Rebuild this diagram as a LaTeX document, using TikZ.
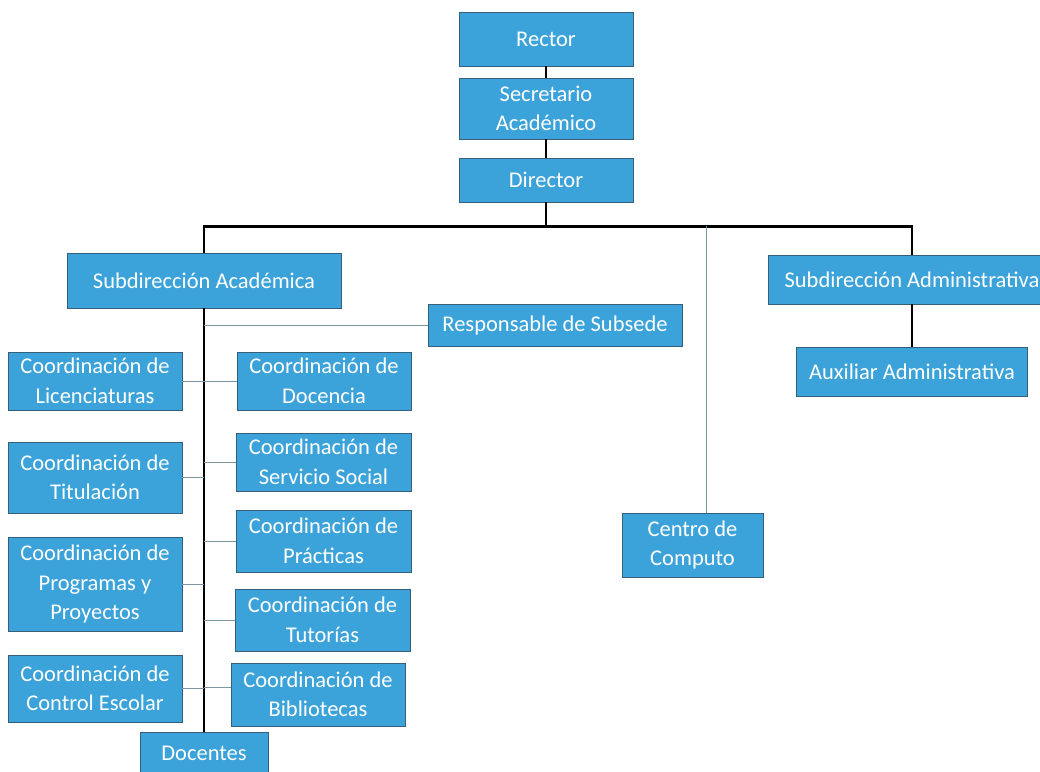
\documentclass[tikz,border=0pt]{standalone}
\usepackage{fontspec}
\setmainfont{Carlito}
\usepackage{tikz}
\usetikzlibrary{calc}
\definecolor{unitblue}{RGB}{59,163,217}
\definecolor{unitedge}{RGB}{55,95,120}
\definecolor{twiggray}{RGB}{125,150,165}

\begin{document}
\begin{tikzpicture}[
    x=1pt, y=-1pt,
    unit/.style={draw=unitedge, fill=unitblue, line width=0.8pt, text=white,
        align=center, inner sep=0pt, font=\fontsize{22.5}{29.5}\selectfont},
    trunk/.style={black, line width=2.6pt},
    twig/.style={twiggray, line width=1pt}
    ]

    \useasboundingbox (0,0) rectangle (1040,771);

    % top of the chart
    \node[unit, minimum width=174pt, minimum height=54pt] (rector) at (546,39) {Rector};
    \node[unit, minimum width=174pt, minimum height=61pt] (secretario) at (546,108.5) {Secretario\\Académico};
    \node[unit, minimum width=174pt, minimum height=44pt] (director) at (546,180) {Director};

    \node[unit, minimum width=274pt, minimum height=55pt] (subacad) at (204,280.5) {Subdirección Académica};
    \node[unit, minimum width=254pt, minimum height=42pt] (subsede) at (555,325) {Responsable de Subsede};
    \node[unit, minimum width=288pt, minimum height=49pt] (subadmin) at (912,279.5) {Subdirección Administrativa};
    \node[unit, minimum width=231pt, minimum height=49pt] (auxiliar) at (912,371.5) {Auxiliar Administrativa};
    \node[unit, minimum width=141pt, minimum height=64pt] (centro) at (692.5,545) {Centro de\\Computo};

    % coordinaciones, left column
    \node[unit, minimum width=174pt, minimum height=58pt] (lic) at (95,381) {Coordinación de\\Licenciaturas};
    \node[unit, minimum width=174pt, minimum height=71pt] (titulacion) at (95,477.5) {Coordinación de\\Titulación};
    \node[unit, minimum width=174pt, minimum height=94pt] (programas) at (95,584) {Coordinación de\\Programas y\\Proyectos};
    \node[unit, minimum width=174pt, minimum height=67pt] (control) at (95,688.5) {Coordinación de\\Control Escolar};

    % coordinaciones, right column
    \node[unit, minimum width=174pt, minimum height=58pt] (docencia) at (324,381) {Coordinación de\\Docencia};
    \node[unit, minimum width=175pt, minimum height=58pt] (servicio) at (323.5,462) {Coordinación de\\Servicio Social};
    \node[unit, minimum width=175pt, minimum height=62pt] (practicas) at (323.5,541) {Coordinación de\\Prácticas};
    \node[unit, minimum width=175pt, minimum height=62pt] (tutorias) at (322.5,620) {Coordinación de\\Tutorías};
    \node[unit, minimum width=174pt, minimum height=63pt] (bibliotecas) at (318,694.5) {Coordinación de\\Bibliotecas};

    \node[unit, minimum width=128pt, minimum height=43pt] (docentes) at (204,753.5) {Docentes};

    % lines of command
    \draw[trunk] (rector) -- (secretario);
    \draw[trunk] (secretario) -- (director);
    \draw[trunk] (director.south) -- ++(0,24) coordinate (bus);
    \draw[trunk] (subacad.north) |- (bus) -| (subadmin.north);
    \draw[trunk] (subadmin) -- (auxiliar);
    \draw[trunk] (subacad.south) -- (docentes.north);

    \coordinate (cc) at (706,226);
    \draw[twig] (cc) -- (centro.north -| cc);
    \draw[twig] (subsede.west) -- (subsede.west -| subacad.south);
    \draw[twig] (lic.east) -- (docencia.west);
    \foreach \n in {titulacion, programas, control}
        \draw[twig] (\n.east) -- (\n.east -| docentes.north);
    \foreach \n in {servicio, practicas, tutorias}
        \draw[twig] (\n.west) -- (\n.west -| docentes.north);
    \draw[twig] ([yshift=7pt]bibliotecas.west) -- ([yshift=7pt]bibliotecas.west -| docentes.north);

\end{tikzpicture}
\end{document}
